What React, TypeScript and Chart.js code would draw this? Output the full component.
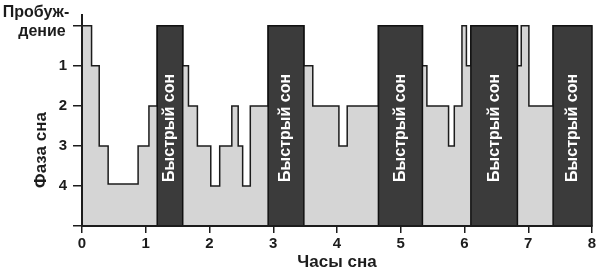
import React, { useEffect, useRef } from "react";
import { Chart, registerables } from "chart.js";

Chart.register(...registerables);

// Sleep hypnogram: hour where each stage begins, and the stage (0 = awake, 4 = deepest)
const hours = [0, 0.15, 0.27, 0.41, 0.88, 1.05, 1.18, 1.58, 1.67, 1.81, 2.02, 2.16, 2.35, 2.45, 2.52, 2.64, 2.92, 3.48, 3.62, 4.03, 4.16, 4.65, 5.34, 5.41, 5.75, 5.84, 5.96, 6.03, 6.10, 6.83, 6.89, 7.01, 7.39, 8.0];
const stages = [0, 1, 3, 3.95, 3, 2, 0, 1, 2, 3, 4, 3, 2, 3, 4, 2, 0, 1, 2, 3, 2, 0, 1, 2, 3, 2, 0, 1, 0, 1, 0, 2, 0, 0];

// REM ("Быстрый сон") periods
const remStart = [1.18, 2.92, 4.65, 6.10, 7.39];
const remEnd = [1.58, 3.48, 5.34, 6.83, 8.0];
const remLabel = "Быстрый сон";

const xTicks = [0, 1, 2, 3, 4, 5, 6, 7, 8];
const yTicks = [0, 1, 2, 3, 4, 5];
const yTickLabels = ["", "1", "2", "3", "4", ""];
const awakeLabel = ["Пробуж-", "дение"];
const xTitle = "Часы сна";
const yTitle = "Фаза сна";

const FONT = "'Liberation Sans', Arial, Helvetica, sans-serif";
const INK = "#1c1c1c";

const remPlugin = {
  id: "remBlocks",
  afterDatasetsDraw(chart: any) {
    const { ctx, scales } = chart;
    const xs = scales.x;
    const ys = scales.y;
    const yTop = ys.getPixelForValue(0);
    const yBot = ys.getPixelForValue(5);
    ctx.save();
    for (let i = 0; i < remStart.length; i++) {
      const x1 = xs.getPixelForValue(remStart[i]);
      const x2 = xs.getPixelForValue(remEnd[i]);
      ctx.fillStyle = "#3b3b3b";
      ctx.fillRect(x1, yTop, x2 - x1, yBot - yTop);
      ctx.strokeStyle = "#111";
      ctx.lineWidth = 1.5;
      ctx.strokeRect(x1, yTop, x2 - x1, yBot - yTop);
      ctx.save();
      ctx.translate((x1 + x2) / 2, (yTop + yBot) / 2 + 2);
      ctx.rotate(-Math.PI / 2);
      ctx.fillStyle = "#ffffff";
      ctx.font = `bold 16px ${FONT}`;
      ctx.textAlign = "center";
      ctx.textBaseline = "middle";
      ctx.fillText(remLabel, 0, 0);
      ctx.restore();
    }
    ctx.restore();
  },
};

const textPlugin = {
  id: "extraText",
  afterDraw(chart: any) {
    const { ctx } = chart;
    ctx.save();
    ctx.fillStyle = INK;
    ctx.textBaseline = "middle";
    ctx.textAlign = "center";
    ctx.font = `bold 16px ${FONT}`;
    ctx.fillText(awakeLabel[0], 36, 13);
    ctx.fillText(awakeLabel[1], 42, 32);
    ctx.save();
    ctx.translate(41, 150);
    ctx.rotate(-Math.PI / 2);
    ctx.font = `bold 17px ${FONT}`;
    ctx.fillText(yTitle, 0, 0);
    ctx.restore();
    ctx.restore();
  },
};

export default function App() {
  const canvasRef = useRef<HTMLCanvasElement | null>(null);

  useEffect(() => {
    const canvas = canvasRef.current;
    if (!canvas) return;
    const points = hours.map((h, i) => ({ x: h, y: stages[i] }));
    const chart = new Chart(canvas, {
      type: "line",
      data: {
        datasets: [
          {
            data: points,
            stepped: true,
            borderColor: INK,
            borderWidth: 1.5,
            backgroundColor: "#d5d5d5",
            fill: { value: 5 },
            pointRadius: 0,
            borderJoinStyle: "miter",
          },
        ],
      },
      options: {
        animation: false,
        responsive: false,
        events: [],
        layout: { padding: { left: 0, right: 8, top: 13, bottom: 0 } },
        plugins: {
          legend: { display: false },
          tooltip: { enabled: false },
        },
        scales: {
          x: {
            type: "linear",
            min: 0,
            max: 8,
            afterBuildTicks: (scale: any) => {
              scale.ticks = xTicks.map((v) => ({ value: v }));
            },
            afterFit: (scale: any) => {
              scale.height = 47;
            },
            ticks: {
              color: INK,
              font: { family: FONT, size: 15, weight: "bold" },
              padding: 2,
              z: 1,
              maxRotation: 0,
            },
            grid: {
              drawOnChartArea: false,
              drawTicks: true,
              tickLength: 7,
              color: INK,
              lineWidth: 1.5,
              z: 1,
            },
            border: { display: true, color: INK, width: 2, z: 1 },
            title: {
              display: true,
              text: xTitle,
              color: INK,
              font: { family: FONT, size: 17, weight: "bold" },
              padding: { top: 0, bottom: 0 },
            },
          },
          y: {
            type: "linear",
            reverse: true,
            min: -0.27,
            max: 5,
            afterBuildTicks: (scale: any) => {
              scale.ticks = yTicks.map((v) => ({ value: v }));
            },
            afterFit: (scale: any) => {
              scale.width = 82;
            },
            ticks: {
              color: INK,
              font: { family: FONT, size: 15, weight: "bold" },
              padding: 6,
              z: 1,
              callback: (_v: any, i: number) => yTickLabels[i],
            },
            grid: {
              drawOnChartArea: false,
              drawTicks: true,
              tickLength: 9,
              color: INK,
              lineWidth: 1.5,
              z: 1,
            },
            border: { display: true, color: INK, width: 2, z: 1 },
          },
        },
      },
      plugins: [remPlugin, textPlugin],
    });
    return () => chart.destroy();
  }, []);

  return (
    <div style={{ position: "absolute", left: 0, top: 0, width: 600, height: 273, background: "#fff" }}>
      <canvas ref={canvasRef} width={600} height={273} style={{ display: "block", width: 600, height: 273 }} />
    </div>
  );
}
